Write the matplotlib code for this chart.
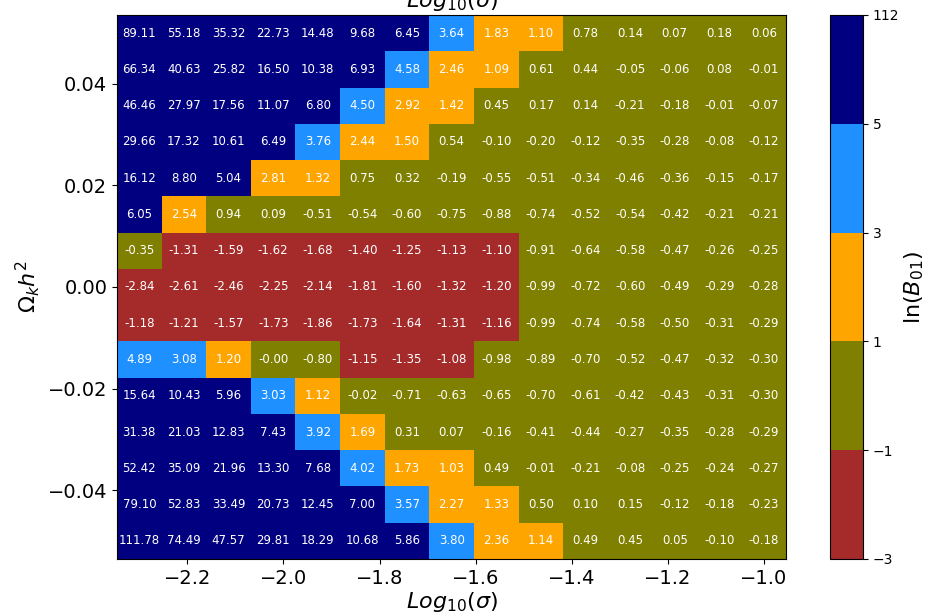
import matplotlib.pyplot as plt
import numpy as np
from matplotlib.colors import BoundaryNorm, ListedColormap

# grid: log10(sigma) along x, Omega_k h^2 along y
log_sigma = np.linspace(-2.3, -1.0, 15)
omega_k = np.linspace(0.05, -0.05, 15)   # top row first

# ln(B01), rows listed from top (0.05) to bottom (-0.05)
lnB = np.array([
    [89.11, 55.18, 35.32, 22.73, 14.48, 9.68, 6.45, 3.64, 1.83, 1.10, 0.78, 0.14, 0.07, 0.18, 0.06],
    [66.34, 40.63, 25.82, 16.50, 10.38, 6.93, 4.58, 2.46, 1.09, 0.61, 0.44, -0.05, -0.06, 0.08, -0.01],
    [46.46, 27.97, 17.56, 11.07, 6.80, 4.50, 2.92, 1.42, 0.45, 0.17, 0.14, -0.21, -0.18, -0.01, -0.07],
    [29.66, 17.32, 10.61, 6.49, 3.76, 2.44, 1.50, 0.54, -0.10, -0.20, -0.12, -0.35, -0.28, -0.08, -0.12],
    [16.12, 8.80, 5.04, 2.81, 1.32, 0.75, 0.32, -0.19, -0.55, -0.51, -0.34, -0.46, -0.36, -0.15, -0.17],
    [6.05, 2.54, 0.94, 0.09, -0.51, -0.54, -0.60, -0.75, -0.88, -0.74, -0.52, -0.54, -0.42, -0.21, -0.21],
    [-0.35, -1.31, -1.59, -1.62, -1.68, -1.40, -1.25, -1.13, -1.10, -0.91, -0.64, -0.58, -0.47, -0.26, -0.25],
    [-2.84, -2.61, -2.46, -2.25, -2.14, -1.81, -1.60, -1.32, -1.20, -0.99, -0.72, -0.60, -0.49, -0.29, -0.28],
    [-1.18, -1.21, -1.57, -1.73, -1.86, -1.73, -1.64, -1.31, -1.16, -0.99, -0.74, -0.58, -0.50, -0.31, -0.29],
    [4.89, 3.08, 1.20, -0.0, -0.80, -1.15, -1.35, -1.08, -0.98, -0.89, -0.70, -0.52, -0.47, -0.32, -0.30],
    [15.64, 10.43, 5.96, 3.03, 1.12, -0.02, -0.71, -0.63, -0.65, -0.70, -0.61, -0.42, -0.43, -0.31, -0.30],
    [31.38, 21.03, 12.83, 7.43, 3.92, 1.69, 0.31, 0.07, -0.16, -0.41, -0.44, -0.27, -0.35, -0.28, -0.29],
    [52.42, 35.09, 21.96, 13.30, 7.68, 4.02, 1.73, 1.03, 0.49, -0.01, -0.21, -0.08, -0.25, -0.24, -0.27],
    [79.10, 52.83, 33.49, 20.73, 12.45, 7.00, 3.57, 2.27, 1.33, 0.50, 0.10, 0.15, -0.12, -0.18, -0.23],
    [111.78, 74.49, 47.57, 29.81, 18.29, 10.68, 5.86, 3.80, 2.36, 1.14, 0.49, 0.45, 0.05, -0.10, -0.18],
])

levels = [-3, -1, 1, 3, 5, 112]
colors = ['brown', 'olive', 'orange', 'dodgerblue', 'navy']

cmap = ListedColormap(colors)
norm = BoundaryNorm(levels, cmap.N)

fig = plt.figure(figsize=(9.25, 6.14), dpi=100)
ax = fig.add_axes([0.1265, 0.0896, 0.7235, 0.886])
cax = fig.add_axes([0.897, 0.0896, 0.036, 0.886])

mesh = ax.pcolormesh(log_sigma, omega_k, lnB, cmap=cmap, norm=norm, shading='nearest')

for i, y in enumerate(omega_k):
    for j, x in enumerate(log_sigma):
        ax.text(x, y, f"{lnB[i, j]:.2f}", ha='center', va='center',
                color='white', fontsize=8.5)

ax.set_yticks([-0.04, -0.02, 0.0, 0.02, 0.04])
ax.set_xticks([-2.2, -2.0, -1.8, -1.6, -1.4, -1.2, -1.0])
ax.tick_params(labelsize=14)
ax.set_xlabel(r'$Log_{10}(\sigma)$', fontsize=16, labelpad=2)
ax.set_ylabel(r'$\Omega_k h^2$', fontsize=16)
ax.set_title(r'$Log_{10}(\sigma)$', fontsize=16)

cb = fig.colorbar(mesh, cax=cax, ticks=levels)
cb.ax.tick_params(labelsize=10)
cb.set_label(r'$\ln(B_{01})$', fontsize=16, labelpad=2)

plt.savefig('out.png')
